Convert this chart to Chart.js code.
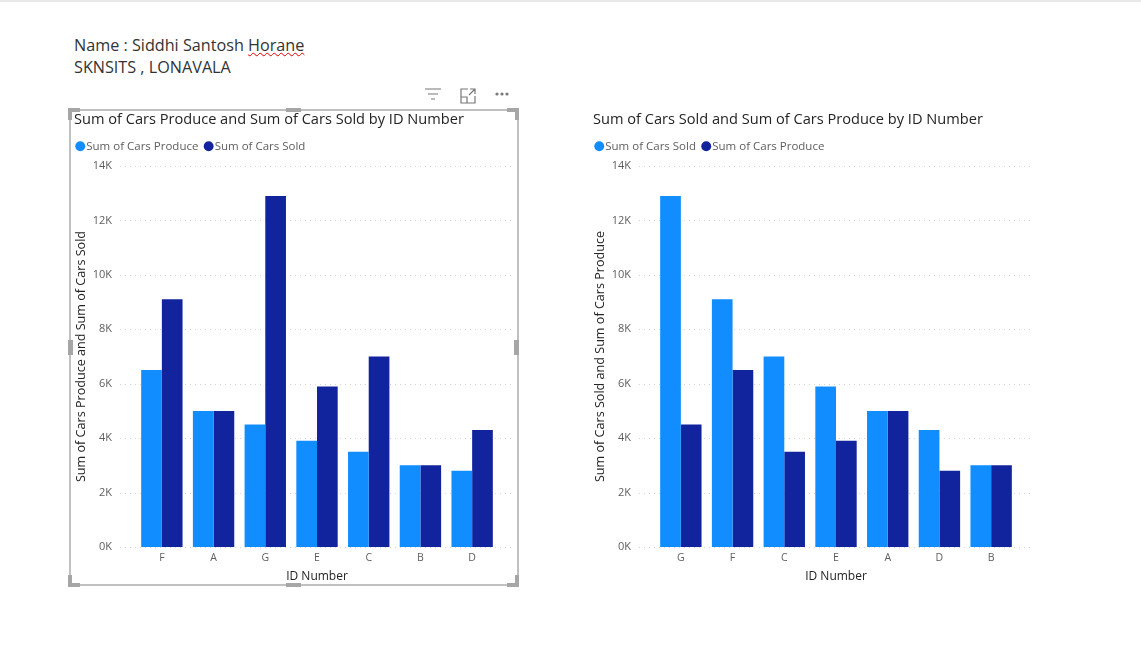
<!DOCTYPE html>
<html>
<head>
<meta charset="utf-8">
<script src="https://cdn.jsdelivr.net/npm/chart.js@4"></script>
<style>
  html, body { margin: 0; padding: 0; background: #fff; }
  body { width: 1141px; height: 654px; position: relative; overflow: hidden; font-family: "Open Sans", sans-serif; }
  #topbar { position: absolute; left: 0; top: 0; width: 1141px; height: 2px; background: #e9e9e9; }
  #note { position: absolute; left: 74px; top: 34px; font-size: 16.2px; line-height: 22px; color: #333; }
  #note span { text-decoration: underline wavy #d00 1px; text-decoration-skip-ink: none; }
  .box { position: absolute; top: 105px; width: 448px; height: 478px; }
  #box1 { left: 70px; }
  #box2 { left: 589px; }
  #frame { position: absolute; left: 69px; top: 109px; width: 446px; height: 473px; border: 2px solid #c0c0c0; }
  .handle { position: absolute; background: #a6a6a6; }
  #icons { position: absolute; left: 420px; top: 84px; }
</style>
</head>
<body>
<div id="topbar"></div>
<div id="note">Name : Siddhi Santosh <span>Horane</span><br>SKNSITS , LONAVALA</div>

<svg id="icons" width="100" height="24" fill="none" stroke="#777" stroke-width="1.2">
  <path d="M5 5h16M8 10h10M11 15h4"/>
  <path d="M48 5h-7v14h14v-7M41 13h6v6M50 5h5v5M55 5l-6 6"/>
  <circle cx="77" cy="10" r="1" fill="#777"/><circle cx="82" cy="10" r="1" fill="#777"/><circle cx="87" cy="10" r="1" fill="#777"/>
</svg>

<div id="frame"></div>
<div class="box" id="box1"><canvas id="chart1"></canvas></div>
<div class="box" id="box2"><canvas id="chart2"></canvas></div>

<!-- selection handles -->
<div class="handle" style="left:68px;top:108px;width:12px;height:4px"></div>
<div class="handle" style="left:68px;top:108px;width:4px;height:12px"></div>
<div class="handle" style="left:507px;top:108px;width:12px;height:4px"></div>
<div class="handle" style="left:515px;top:108px;width:4px;height:12px"></div>
<div class="handle" style="left:68px;top:583px;width:12px;height:4px"></div>
<div class="handle" style="left:68px;top:575px;width:4px;height:12px"></div>
<div class="handle" style="left:507px;top:583px;width:12px;height:4px"></div>
<div class="handle" style="left:515px;top:575px;width:4px;height:12px"></div>
<div class="handle" style="left:286px;top:108px;width:15px;height:4px"></div>
<div class="handle" style="left:286px;top:583px;width:15px;height:4px"></div>
<div class="handle" style="left:68px;top:340px;width:5px;height:15px"></div>
<div class="handle" style="left:514px;top:340px;width:5px;height:15px"></div>

<script>
const idsLeft = ["F", "A", "G", "E", "C", "B", "D"];
const producedLeft = [6500, 5000, 4500, 3900, 3500, 3000, 2800];
const soldLeft = [9100, 5000, 12900, 5900, 7000, 3000, 4300];

const idsRight = ["G", "F", "C", "E", "A", "D", "B"];
const soldRight = [12900, 9100, 7000, 5900, 5000, 4300, 3000];
const producedRight = [4500, 6500, 3500, 3900, 5000, 2800, 3000];

const yTicks = [0, 2000, 4000, 6000, 8000, 10000, 12000, 14000];

const lightBlue = "#118DFF";
const darkBlue = "#12239E";
const fontFamily = "'Open Sans', sans-serif";

// grid lines run wider than the bars, so they are drawn past the chart area
const wideGrid = {
  id: "wideGrid",
  beforeDatasetsDraw(chart) {
    const { ctx, chartArea, scales } = chart;
    ctx.save();
    ctx.strokeStyle = "#d4d4d4";
    ctx.lineWidth = 1;
    ctx.setLineDash([1, 4]);
    scales.y.ticks.forEach((tick) => {
      const y = Math.round(scales.y.getPixelForValue(tick.value)) + 0.5;
      ctx.beginPath();
      ctx.moveTo(chartArea.left - 16, y);
      ctx.lineTo(chartArea.right + 16, y);
      ctx.stroke();
    });
    ctx.restore();
  },
};

// legend sits a little further up and left than chart.js puts it
const nudgeLegend = {
  id: "nudgeLegend",
  afterLayout(chart) {
    chart.legend.left -= 4;
    chart.legend.top -= 4;
  },
};

const renderChart = (canvas, title, yTitle, labels, name1, values1, name2, values2) => {
  return new Chart(canvas, {
    type: "bar",
    data: {
      labels: labels,
      datasets: [
        { label: name1, data: values1, backgroundColor: lightBlue },
        { label: name2, data: values2, backgroundColor: darkBlue },
      ],
    },
    plugins: [wideGrid, nudgeLegend],
    options: {
      responsive: false,
      animation: false,
      layout: { padding: { left: 4, right: 20, top: 0, bottom: 0 } },
      datasets: { bar: { barPercentage: 1, categoryPercentage: 0.8 } },
      plugins: {
        tooltip: { enabled: false },
        title: {
          display: true,
          text: title,
          align: "start",
          color: "#252423",
          font: { family: fontFamily, size: 14.6, weight: "500" },
          padding: { top: 6.5, bottom: 5.5 },
        },
        legend: {
          align: "start",
          labels: {
            usePointStyle: true,
            pointStyle: "circle",
            boxWidth: 0.5,
            boxHeight: 7,
            padding: 10,
            color: "#605E5C",
            font: { family: fontFamily, size: 11.5 },
          },
        },
      },
      scales: {
        x: {
          grid: { display: false, drawTicks: false },
          border: { display: false },
          ticks: { color: "#605E5C", font: { family: fontFamily, size: 10.5 }, padding: 5, maxRotation: 0 },
          title: { display: true, text: "ID Number", color: "#252423", font: { family: fontFamily, size: 12 }, padding: { top: 0, bottom: -1 } },
          afterFit(scale) { scale.height = 36; },
        },
        y: {
          min: 0,
          max: 14000,
          afterBuildTicks(scale) { scale.ticks = yTicks.map((v) => ({ value: v })); },
          grid: { display: false, drawTicks: false },
          border: { display: false },
          ticks: {
            color: "#605E5C",
            font: { family: fontFamily, size: 11 },
            padding: 24,
            callback: (v) => v / 1000 + "K",
          },
          title: { display: true, text: yTitle, color: "#252423", font: { family: fontFamily, size: 12.6 }, padding: 0 },
          afterFit(scale) { scale.width = 62; },
        },
      },
    },
  });
};

const setup = (id) => {
  const canvas = document.getElementById(id);
  canvas.width = 448;
  canvas.height = 478;
  return canvas;
};

renderChart(setup("chart1"), "Sum of Cars Produce and Sum of Cars Sold by ID Number", "Sum of Cars Produce and Sum of Cars Sold", idsLeft, "Sum of Cars Produce", producedLeft, "Sum of Cars Sold", soldLeft);
renderChart(setup("chart2"), "Sum of Cars Sold and Sum of Cars Produce by ID Number", "Sum of Cars Sold and Sum of Cars Produce", idsRight, "Sum of Cars Sold", soldRight, "Sum of Cars Produce", producedRight);
</script>
</body>
</html>
